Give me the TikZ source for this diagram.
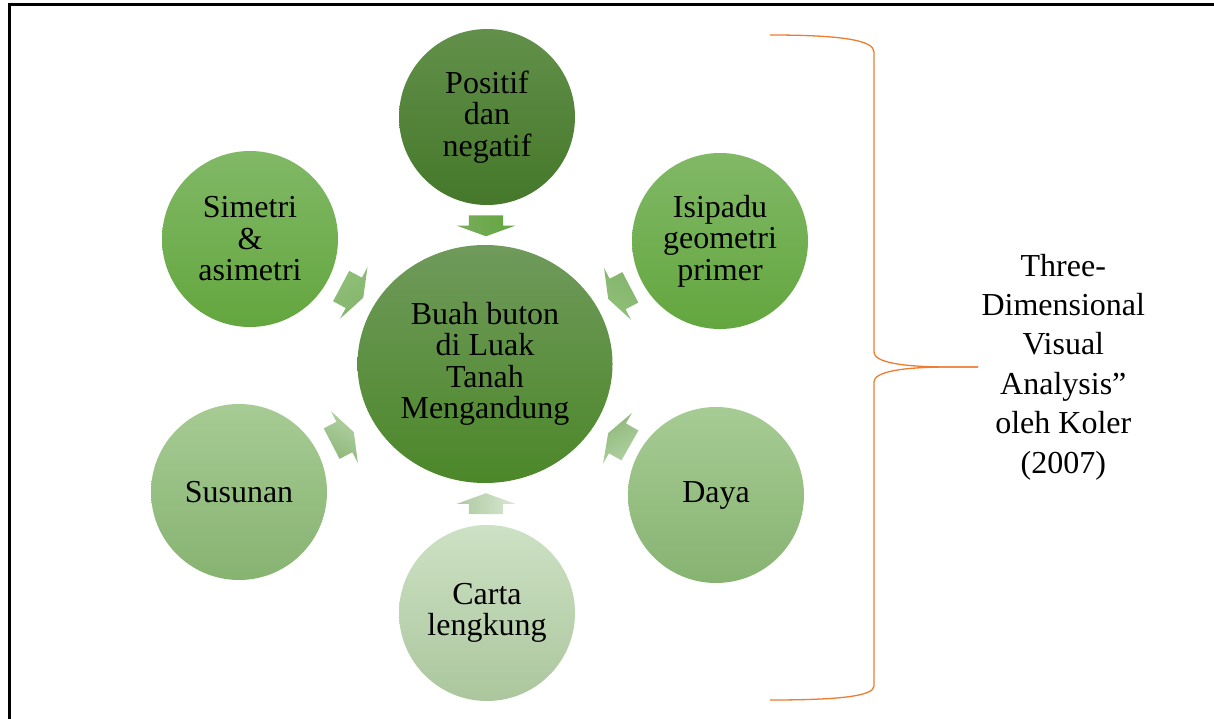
\documentclass[tikz,border=0pt]{standalone}
\usepackage{fontspec}
\setmainfont{Liberation Serif}
\usetikzlibrary{shapes.geometric}
\usetikzlibrary{shapes.arrows}

\definecolor{pusatA}{HTML}{6F9A5B}
\definecolor{pusatB}{HTML}{4C8729}
\definecolor{atasA}{HTML}{62904A}
\definecolor{atasB}{HTML}{45782A}
\definecolor{sedangA}{HTML}{81B866}
\definecolor{sedangB}{HTML}{63A63E}
\definecolor{mudaA}{HTML}{A6CB94}
\definecolor{mudaB}{HTML}{87B371}
\definecolor{pucatA}{HTML}{CDE1C4}
\definecolor{pucatB}{HTML}{ABC69D}
\definecolor{oren}{HTML}{ED7D31}

\begin{document}
\begin{tikzpicture}[x=1pt,y=-1pt,
	bulat/.style={circle,minimum size=176pt,inner sep=0pt,align=center,font=\fontsize{32}{31.5}\selectfont},
	panah/.style={single arrow,minimum width=58pt,minimum height=21pt,inner xsep=0pt,inner ysep=17pt,
		single arrow head extend=12pt,single arrow tip angle=140,anchor=tip},
	miring/.style={panah,minimum height=25pt}, % anak panah serong
	kurung/.style={draw=oren,line width=1.3pt}]
\useasboundingbox (0,0) rectangle (1214,719);
\draw[line width=3pt,overlay] (1240,4.5) -- (9,4.5) -- (9,740);
\coordinate (A) at (485,364);
\coordinate (B) at (487,117);
\coordinate (C) at (250,239);
\coordinate (D) at (720,241);
\coordinate (E) at (239,492);
\coordinate (F) at (716,495);
\coordinate (G) at (487,613);
\node[ellipse,minimum width=255pt,minimum height=238pt,inner sep=0pt,align=center,
	font=\fontsize{32}{31.5}\selectfont,top color=pusatA,bottom color=pusatB] (P) at (A)
	{Buah buton\\di Luak\\Tanah\\Mengandung};
\node[bulat,top color=atasA,bottom color=atasB] (P1) at (B) {Positif\\dan\\negatif};
\node[bulat,top color=sedangA,bottom color=sedangB] (P2) at (C) {Simetri\\\&\\asimetri};
\node[bulat,top color=sedangA,bottom color=sedangB] (P3) at (D) {Isipadu\\geometri\\primer};
\node[bulat,top color=mudaA,bottom color=mudaB] (P4) at (E) {Susunan};
\node[bulat,top color=mudaA,bottom color=mudaB] (P5) at (F) {Daya};
\node[bulat,top color=pucatA,bottom color=pucatB] (P6) at (G) {Carta\\lengkung};
% anak panah ke tengah
\node[panah,top color=atasA!30!sedangA,bottom color=sedangB,rotate=-90,shading angle=90] (Q1) at (486,236.5) {};
\node[miring,top color=sedangA!60!mudaA,bottom color=sedangA!40!mudaB,rotate=-28,shading angle=28] (Q2) at (363.4,297.9) {};
\node[miring,top color=sedangA!60!mudaA,bottom color=sedangA!40!mudaB,rotate=-152.4,shading angle=152.4] (Q3) at (608,299) {};
\node[miring,top color=mudaA!70!pucatA,bottom color=mudaB!80!pucatB,rotate=27.5,shading angle=-27.5] (Q4) at (354,432) {};
\node[miring,top color=mudaA!70!pucatA,bottom color=mudaB!80!pucatB,rotate=150.4,shading angle=-150.4] (Q5) at (608,433) {};
\node[panah,top color=pucatA!80!white,bottom color=pucatB!90!pucatA,rotate=90,shading angle=-90] (Q6) at (486,493) {};
% kurung kurawal
\coordinate (K1) at (770,35);
\coordinate (K2) at (978,367);
\coordinate (K3) at (770,700);
\draw[kurung] (K1) .. controls (840,35) and (874,40) .. (874,52) -- (874,352)
	.. controls (874,362) and (900,367) .. (950,367) -- (K2);
\draw[kurung] (K2) -- (950,367) .. controls (900,367) and (874,372) .. (874,382)
	-- (874,686) .. controls (874,696) and (840,700) .. (K3);
\node[align=center,font=\fontsize{32}{39.4}\selectfont,anchor=west] (T) at (K2)
	{Three-\\Dimensional\\Visual\\Analysis”\\oleh Koler\\(2007)};
\end{tikzpicture}
\end{document}
